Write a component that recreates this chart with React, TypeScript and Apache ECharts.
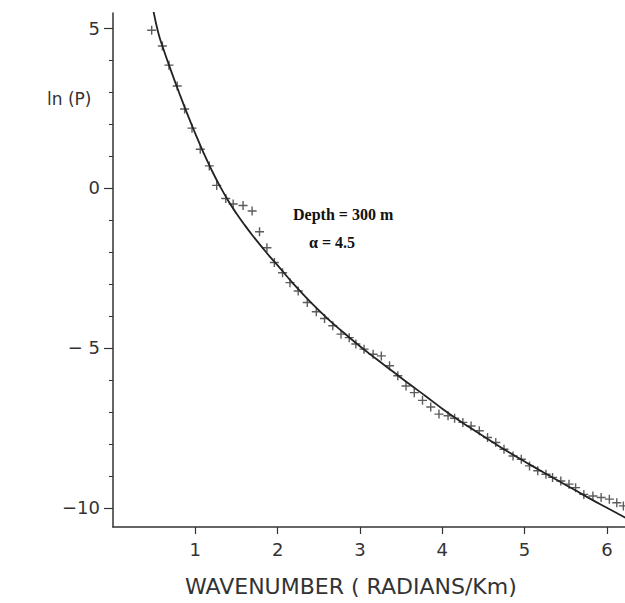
import React, { useEffect, useRef } from "react";
import * as echarts from "echarts";

// Fitted curve
const curveX = [0.49, 0.55, 0.6, 0.7, 0.8, 0.9, 1.0, 1.1, 1.2, 1.3, 1.4, 1.5, 1.6, 1.7, 1.8, 1.9, 2.0, 2.2, 2.4, 2.6, 2.8, 3.0, 3.2, 3.4, 3.6, 3.8, 4.0, 4.2, 4.4, 4.6, 4.8, 5.0, 5.2, 5.4, 5.6, 5.8, 6.0, 6.23];
const curveY = [5.55, 4.85, 4.44, 3.7, 3.0, 2.33, 1.7, 1.1, 0.55, 0.05, -0.4, -0.8, -1.16, -1.5, -1.82, -2.13, -2.42, -3.02, -3.57, -4.07, -4.52, -4.95, -5.35, -5.74, -6.13, -6.51, -6.9, -7.26, -7.6, -7.93, -8.25, -8.55, -8.85, -9.14, -9.43, -9.72, -10.0, -10.32];

// Observed spectrum (crosses)
const crossX = [0.47, 0.60, 0.68, 0.78, 0.87, 0.96, 1.06, 1.17, 1.26, 1.37, 1.46, 1.58, 1.69, 1.78, 1.87, 1.96, 2.06, 2.15, 2.25, 2.36, 2.47, 2.57, 2.67, 2.77, 2.87, 2.95, 3.05, 3.16, 3.26, 3.36, 3.46, 3.56, 3.66, 3.76, 3.86, 3.96, 4.07, 4.15, 4.25, 4.35, 4.45, 4.55, 4.65, 4.75, 4.86, 4.96, 5.06, 5.16, 5.26, 5.34, 5.44, 5.54, 5.62, 5.72, 5.83, 5.93, 6.03, 6.12, 6.20];
const crossY = [4.93, 4.44, 3.84, 3.19, 2.47, 1.87, 1.21, 0.69, 0.08, -0.33, -0.50, -0.55, -0.72, -1.37, -1.87, -2.33, -2.65, -2.96, -3.22, -3.58, -3.87, -4.08, -4.31, -4.57, -4.68, -4.88, -5.04, -5.20, -5.25, -5.56, -5.87, -6.19, -6.40, -6.64, -6.85, -7.07, -7.12, -7.20, -7.33, -7.44, -7.59, -7.80, -7.96, -8.17, -8.38, -8.48, -8.69, -8.84, -8.95, -9.05, -9.16, -9.26, -9.37, -9.58, -9.63, -9.68, -9.73, -9.84, -9.94];

const xTickValues = [1, 2, 3, 4, 5, 6];
const yTickValues = [-10, -5, 0, 5];
const yTickLabels = ["−10", "− 5", "0", "5"];
const yMinorValues = [-10, -9, -8, -7, -6, -5, -4, -3, -2, -1, 0, 1, 2, 3, 4, 5];

const INK = "#333";
const FONT = "DejaVu Sans";

export default function App() {
  const ref = useRef<HTMLDivElement>(null);
  useEffect(() => {
    if (!ref.current) return;
    const chart = echarts.init(ref.current, null, { renderer: "svg" });
    const labelFont = { fontFamily: FONT, fontSize: 18, color: INK };
    chart.setOption({
      animation: false,
      backgroundColor: "#fff",
      grid: { left: 113, right: 0, top: 13, bottom: 76 },
      xAxis: {
        type: "value",
        min: 0,
        max: 6.22,
        interval: 1,
        splitLine: { show: false },
        axisLine: { onZero: false, lineStyle: { color: INK, width: 1.5 } },
        axisTick: { length: 7, customValues: xTickValues, lineStyle: { color: INK, width: 1.2 } },
        axisLabel: { ...labelFont, margin: 13, customValues: xTickValues },
      },
      yAxis: [
        {
          type: "value",
          min: -10.6,
          max: 5.47,
          splitLine: { show: false },
          axisLine: { show: true, onZero: false, lineStyle: { color: INK, width: 1.5 } },
          axisTick: { show: true, length: 9, customValues: yTickValues, lineStyle: { color: INK, width: 1.2 } },
          axisLabel: {
            ...labelFont,
            margin: 13,
            customValues: yTickValues,
            formatter: (v: number) => {
              const i = yTickValues.indexOf(Math.round(v));
              return i >= 0 ? yTickLabels[i] : "";
            },
          },
        },
        {
          type: "value",
          min: -10.6,
          max: 5.47,
          position: "left",
          splitLine: { show: false },
          axisLine: { show: false, onZero: false },
          axisTick: { show: true, length: 4, customValues: yMinorValues, lineStyle: { color: INK, width: 1 } },
          axisLabel: { show: false },
        },
      ],
      graphic: [
        { type: "text", left: 47, top: 90, style: { text: "ln (P)", font: `17px '${FONT}'`, fill: INK } },
        { type: "text", left: 185, top: 575, style: { text: "WAVENUMBER ( RADIANS/Km)", font: `22px '${FONT}'`, fill: INK } },
        { type: "text", left: 293, top: 206, style: { text: "Depth = 300 m", font: "bold 16px 'Liberation Serif'", fill: "#111" } },
        { type: "text", left: 309, top: 234, style: { text: "α = 4.5", font: "bold 16px 'Liberation Serif'", fill: "#111" } },
      ],
      series: [
        {
          type: "line",
          data: curveX.map((x, i) => [x, curveY[i]]),
          smooth: true,
          showSymbol: false,
          lineStyle: { color: "#222", width: 1.8 },
          clip: true,
        },
        {
          type: "scatter",
          data: crossX.map((x, i) => [x, crossY[i]]),
          symbol: "path://M0,5L10,5M5,0L5,10",
          symbolSize: 9,
          itemStyle: { color: "transparent", borderColor: "#333", borderWidth: 1.4 },
        },
      ],
    });
    return () => chart.dispose();
  }, []);
  return <div ref={ref} style={{ position: "absolute", left: 0, top: 0, width: 625, height: 603 }} />;
}
